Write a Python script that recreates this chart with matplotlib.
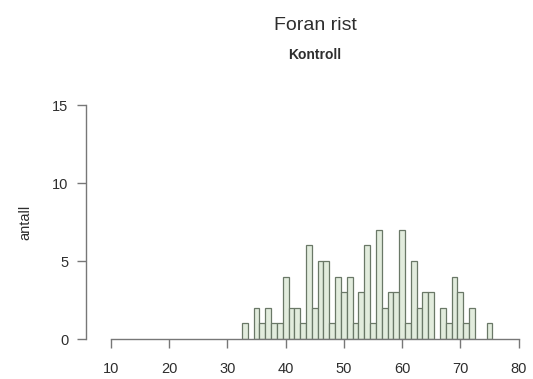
import matplotlib
matplotlib.use('Agg')

import matplotlib.pyplot as plt
import numpy as np

# Lengdefordeling (1 cm klasser)
lengde = [33, 35, 36, 37, 38, 39, 40, 41, 42, 43, 44, 45, 46, 47, 48, 49,
          50, 51, 52, 53, 54, 55, 56, 57, 58, 59, 60, 61, 62, 63, 64, 65,
          67, 68, 69, 70, 71, 72, 75]
antall = [1, 2, 1, 2, 1, 1, 4, 2, 2, 1, 6, 2, 5, 5, 1, 4,
          3, 4, 1, 3, 6, 1, 7, 2, 3, 3, 7, 1, 5, 2, 3, 3,
          2, 1, 4, 3, 1, 2, 1]

x_ticks = [10, 20, 30, 40, 50, 60, 70, 80]
y_ticks = [0, 5, 10, 15]

plt.rcParams['font.family'] = ['Liberation Sans', 'DejaVu Sans']

fig = plt.figure(figsize=(5.33, 3.79), dpi=100)
ax = fig.add_axes([0.208, 0.1055, 0.765, 0.617])

ax.bar(lengde, antall, width=1.0, align='center',
       facecolor='#e2ecdd', edgecolor='#6a7867', linewidth=0.9, zorder=2)

ax.set_xlim(10, 80)
ax.set_ylim(0, 15)

grey = '#777777'
txt = '#2e2e2e'
for s in ['top', 'right']:
    ax.spines[s].set_visible(False)
ax.spines['left'].set_position(('outward', 18))
ax.spines['left'].set_bounds(0, 15)
ax.spines['bottom'].set_bounds(10, 80)
for s in ['left', 'bottom']:
    ax.spines[s].set_color(grey)
    ax.spines[s].set_linewidth(1.0)

ax.set_xticks(x_ticks)
ax.set_yticks(y_ticks)
ax.tick_params(axis='both', colors=grey, labelcolor=txt, length=6.5,
               width=1.0, labelsize=10.5)
ax.tick_params(axis='x', pad=10)
ax.tick_params(axis='y', pad=6)

ax.set_ylabel('antall', fontsize=10.5, color=txt, labelpad=14)

fig.text(0.591, 0.932, 'Foran rist', ha='center', va='center',
         fontsize=14, color=txt)
fig.text(0.591, 0.855, 'Kontroll', ha='center', va='center',
         fontsize=10, fontweight='bold', color=txt)

fig.savefig('out.png', dpi=100)
